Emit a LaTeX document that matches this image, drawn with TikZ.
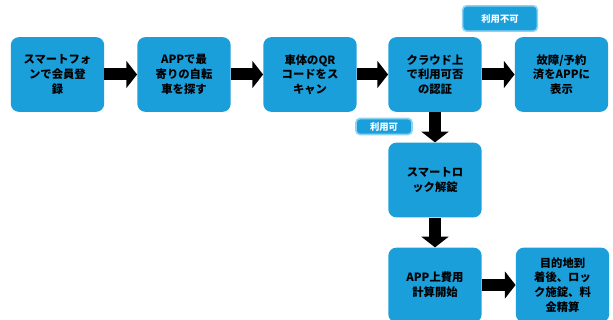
\documentclass[tikz,border=0pt]{standalone}
\usepackage{fontspec}
\newfontfamily\jp{Noto Sans CJK JP}
\usetikzlibrary{arrows.meta}
\definecolor{boxblue}{HTML}{1B9FDB}
\definecolor{lblborder}{HTML}{8CD2F2}
\tikzset{
  flowbox/.style={draw=none, fill=boxblue, rounded corners=6pt, minimum width=70pt, minimum height=56pt,
    inner sep=0pt, align=center, font=\jp\bfseries\fontsize{8.5}{11}\selectfont, text=black},
  tagbox/.style={draw=lblborder, line width=1.2pt, fill=boxblue, rounded corners=3pt, inner sep=0pt,
    font=\jp\bfseries\fontsize{7}{8}\selectfont, text=white},
  flowarrow/.style={draw=black, line width=9pt, -{Triangle[length=8pt,width=20pt]}}
}
\begin{document}
\begin{tikzpicture}[x=0.75pt,y=-0.75pt]
\fill[white] (0,0) rectangle (613,320);
\useasboundingbox (0,0) rectangle (613,320);
\begin{scope}
\clip (0,0) rectangle (613,320);
\node[flowbox] (b1) at (57.5,74.5) {スマートフォ\\ンで会員登\\録};
\node[flowbox] (b2) at (184,74.5) {APPで最\\寄りの自転\\車を探す};
\node[flowbox] (b3) at (310,74.5) {車体のQR\\コードをス\\キャン};
\node[flowbox] (b4) at (435,74.5) {クラウド上\\で利用可否\\の認証};
\node[flowbox] (b5) at (561.5,74.5) {故障/予約\\済をAPPに\\表示};
\node[flowbox] (b6) at (435,180) {スマートロ\\ック解錠};
\node[flowbox] (b7) at (435,285) {APP上費用\\計算開始};
\node[flowbox] (b8) at (562.5,285) {目的地到\\着後、ロッ\\ク施錠、料\\金精算};
\node[tagbox, minimum width=56pt, minimum height=19pt] (t1) at (500,18.5) {利用不可};
\node[tagbox, minimum width=42pt, minimum height=12pt] (t2) at (384,126.5) {利用可};
\draw[flowarrow] (b1) -- (b2);
\draw[flowarrow] (b2) -- (b3);
\draw[flowarrow] (b3) -- (b4);
\draw[flowarrow] (b4) -- (b5);
\draw[flowarrow] (b4) -- (b6);
\draw[flowarrow] (b6) -- (b7);
\draw[flowarrow] (b7) -- (b8);
\end{scope}
\end{tikzpicture}
\end{document}
